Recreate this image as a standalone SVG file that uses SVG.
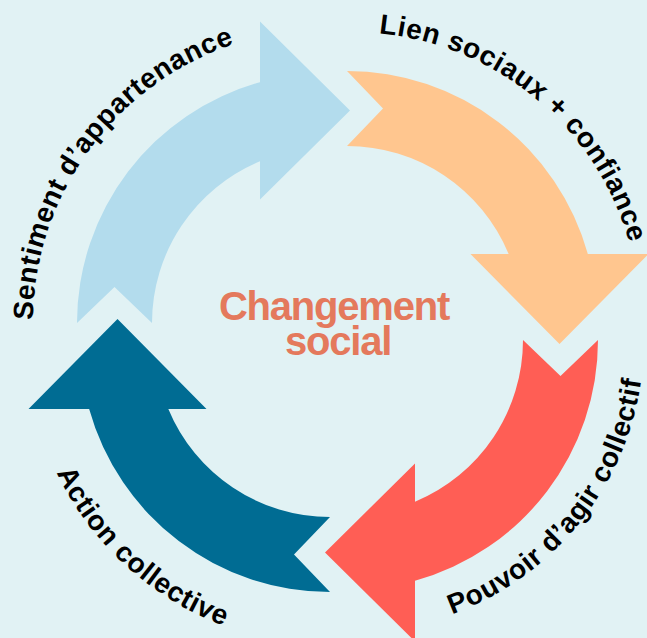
<svg xmlns="http://www.w3.org/2000/svg" xmlns:xlink="http://www.w3.org/1999/xlink" width="647" height="638" viewBox="0 0 647 638">
  <style>
    .lbl { font-family: "Liberation Sans", Arial, sans-serif; font-weight: bold; font-size: 28px; letter-spacing: 0.6px; fill: #000; }
    .center { font-family: "Liberation Sans", Arial, sans-serif; font-weight: bold; font-size: 40px; letter-spacing: -1.2px; fill: #e4795c; text-anchor: middle; }
  </style>
  <defs>
    <path id="arrow" d="M -250 0 A 250 250 0 0 1 -67 -240.85 L -67 -301.5 L 23 -212.5 L -67 -123.5 L -67 -161.67 A 175 175 0 0 0 -175 0 L -212.5 -36 Z"/>
    <path id="tp1" d="M 33 323 A 294 294 0 0 1 621 323"/>
    <path id="tp2" d="M 351 32 A 289 289 0 0 1 351 610"/>
    <path id="tp3" d="M 352 632 A 292 292 0 0 0 644 340"/>
    <path id="tp4" d="M 27 342 A 303 303 0 0 0 330 645"/>
  </defs>
  <rect width="647" height="638" fill="#e1f2f4"/>
  <g id="sentiment">
    <use xlink:href="#arrow" href="#arrow" transform="translate(327 323)" fill="#b3dced"/>
    <text class="lbl"><textPath xlink:href="#tp1" href="#tp1" startOffset="3">Sentiment d’appartenance</textPath></text>
  </g>
  <g id="liens">
    <use xlink:href="#arrow" href="#arrow" transform="translate(347 321) rotate(90)" fill="#ffc68f"/>
    <text class="lbl"><textPath xlink:href="#tp2" href="#tp2" startOffset="28">Lien sociaux + confiance</textPath></text>
  </g>
  <g id="pouvoir">
    <use xlink:href="#arrow" href="#arrow" transform="translate(348 340) rotate(180)" fill="#ff5e55"/>
    <text class="lbl"><textPath xlink:href="#tp3" href="#tp3" startOffset="102">Pouvoir d’agir collectif</textPath></text>
  </g>
  <g id="action">
    <use xlink:href="#arrow" href="#arrow" transform="translate(330 342) rotate(270)" fill="#006c93"/>
    <text class="lbl"><textPath xlink:href="#tp4" href="#tp4" startOffset="135">Action collective</textPath></text>
  </g>
  <g id="centre">
    <text class="center" x="334" y="320">Changement</text>
    <text class="center" x="338" y="355">social</text>
  </g>
  <g id="connectors"/>
</svg>
